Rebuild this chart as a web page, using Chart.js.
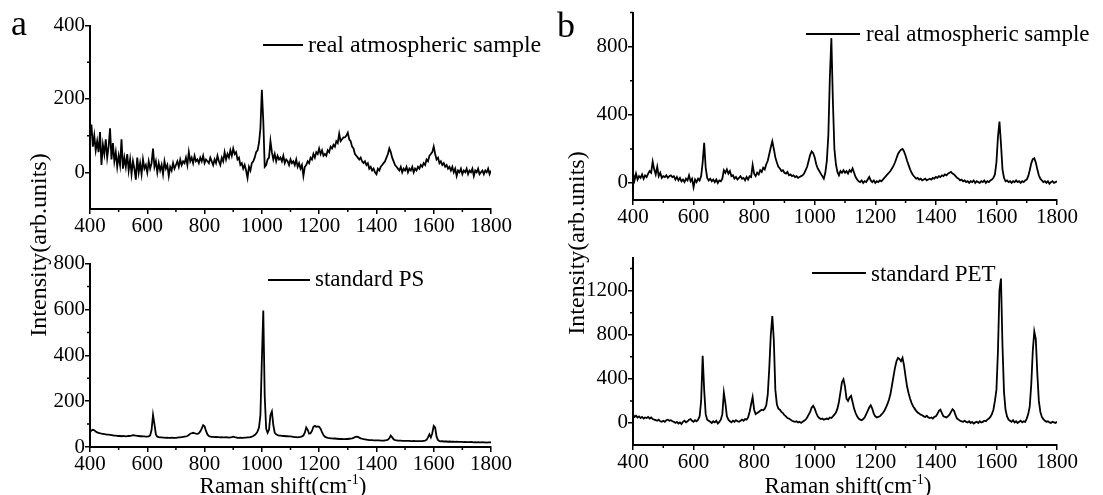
<!DOCTYPE html>
<html>
<head>
<meta charset="utf-8">
<script src="https://cdn.jsdelivr.net/npm/chart.js@4.4.1/dist/chart.umd.min.js"></script>
<style>
  body { margin: 0; background: #fff; width: 1103px; height: 495px; position: relative; overflow: hidden;
         font-family: "Liberation Serif", "Times New Roman", serif; color: #000; }
  canvas { position: absolute; }
  .txt { position: absolute; white-space: nowrap; line-height: 1; }
  .key { position: absolute; height: 2px; background: #000; }
  .ytitle { position: absolute; white-space: nowrap; line-height: 1; font-size: 24px;
            transform: translate(-50%, -50%) rotate(-90deg); }
  .xtitle { position: absolute; white-space: nowrap; line-height: 1; font-size: 23px;
            transform: translate(-50%, -50%); }
  sup { font-size: 14px; vertical-align: 9px; line-height: 0; }
</style>
</head>
<body>
<canvas id="aTop"></canvas>
<canvas id="aBot"></canvas>
<canvas id="bTop"></canvas>
<canvas id="bBot"></canvas>

<div class="txt" style="left:11px;top:5px;font-size:36px;">a</div>
<div class="txt" style="left:557px;top:7px;font-size:36px;">b</div>

<div class="key" style="left:263px;top:44px;width:40px;"></div>
<div class="txt" style="left:308px;top:32px;font-size:24px;">real atmospheric sample</div>
<div class="key" style="left:268px;top:279px;width:42px;"></div>
<div class="txt" style="left:315px;top:267px;font-size:23px;">standard PS</div>
<div class="key" style="left:806px;top:33px;width:54px;"></div>
<div class="txt" style="left:866px;top:22px;font-size:23px;">real atmospheric sample</div>
<div class="key" style="left:812px;top:272px;width:54px;"></div>
<div class="txt" style="left:871px;top:262px;font-size:23px;">standard PET</div>

<div class="ytitle" style="left:38px;top:245px;">Intensity(arb.units)</div>
<div class="ytitle" style="left:576px;top:243px;">Intensity(arb.units)</div>
<div class="xtitle" style="left:283px;top:485px;">Raman shift(cm<sup>-1</sup>)</div>
<div class="xtitle" style="left:848px;top:485px;">Raman shift(cm<sup>-1</sup>)</div>

<script>
// Raman shift axis (cm-1), shared by all four spectra
const ramanShift = [
  400, 405, 410, 415, 420, 425, 430, 435, 440, 445, 450, 455, 460, 465, 470, 475, 480, 485, 490, 495,
  500, 505, 510, 515, 520, 525, 530, 535, 540, 545, 550, 555, 560, 565, 570, 575, 580, 585, 590, 595,
  600, 605, 610, 615, 620, 625, 630, 635, 640, 645, 650, 655, 660, 665, 670, 675, 680, 685, 690, 695,
  700, 705, 710, 715, 720, 725, 730, 735, 740, 745, 750, 755, 760, 765, 770, 775, 780, 785, 790, 795,
  800, 805, 810, 815, 820, 825, 830, 835, 840, 845, 850, 855, 860, 865, 870, 875, 880, 885, 890, 895,
  900, 905, 910, 915, 920, 925, 930, 935, 940, 945, 950, 955, 960, 965, 970, 975, 980, 985, 990, 995,
  1000, 1005, 1010, 1015, 1020, 1025, 1030, 1035, 1040, 1045, 1050, 1055, 1060, 1065, 1070, 1075, 1080, 1085, 1090, 1095,
  1100, 1105, 1110, 1115, 1120, 1125, 1130, 1135, 1140, 1145, 1150, 1155, 1160, 1165, 1170, 1175, 1180, 1185, 1190, 1195,
  1200, 1205, 1210, 1215, 1220, 1225, 1230, 1235, 1240, 1245, 1250, 1255, 1260, 1265, 1270, 1275, 1280, 1285, 1290, 1295,
  1300, 1305, 1310, 1315, 1320, 1325, 1330, 1335, 1340, 1345, 1350, 1355, 1360, 1365, 1370, 1375, 1380, 1385, 1390, 1395,
  1400, 1405, 1410, 1415, 1420, 1425, 1430, 1435, 1440, 1445, 1450, 1455, 1460, 1465, 1470, 1475, 1480, 1485, 1490, 1495,
  1500, 1505, 1510, 1515, 1520, 1525, 1530, 1535, 1540, 1545, 1550, 1555, 1560, 1565, 1570, 1575, 1580, 1585, 1590, 1595,
  1600, 1605, 1610, 1615, 1620, 1625, 1630, 1635, 1640, 1645, 1650, 1655, 1660, 1665, 1670, 1675, 1680, 1685, 1690, 1695,
  1700, 1705, 1710, 1715, 1720, 1725, 1730, 1735, 1740, 1745, 1750, 1755, 1760, 1765, 1770, 1775, 1780, 1785, 1790, 1795,
  1800
];

// (a) real atmospheric sample
const atmosA = [
  95, 130, 70, 100, 60, 85, 55, 110, 20, 75, 50, 90, 40, 70, 120, 35, 80, 30, 55, 15,
  45, 20, 90, 10, 40, 15, 50, 5, 35, -5, 30, 10, -20, 40, 0, 25, -5, 35, 10, 20,
  0, 30, 10, 25, 65, 15, 30, 0, 25, 5, 20, -5, 30, 10, 20, -10, 15, 5, 25, 10,
  20, 30, 15, 35, 20, 30, 25, 40, 20, 55, 30, 40, 25, 45, 30, 35, 25, 40, 30, 45,
  25, 35, 30, 25, 40, 30, 20, 35, 25, 45, 30, 20, 40, 30, 55, 35, 50, 40, 60, 45,
  65, 50, 55, 35, 40, 20, 25, 10, 20, 5, -15, 15, 5, 25, 30, 40, 55, 60, 80, 120,
  225, 140, 15, 20, 35, 40, 85, 55, 35, 50, 30, 45, 35, 40, 30, 45, 25, 35, 30, 20,
  35, 25, 30, 20, 35, 15, 25, 10, 20, -10, 15, 20, 30, 25, 40, 35, 50, 40, 55, 50,
  65, 50, 60, 45, 50, 45, 60, 55, 70, 65, 75, 70, 85, 80, 105, 85, 90, 95, 95, 100,
  108, 90, 85, 70, 65, 50, 45, 40, 35, 40, 30, 25, 30, 20, 25, 10, 15, 5, 10, 0,
  -5, 10, 5, 15, 20, 25, 30, 40, 50, 65, 55, 40, 30, 20, 15, 10, 5, 15, 0, 10,
  5, 15, 0, 10, 5, 15, 0, 10, 5, 15, 10, 20, 15, 25, 20, 35, 30, 45, 50, 55,
  70, 50, 35, 40, 25, 30, 20, 25, 15, 20, 10, 15, 5, 15, 0, 10, -10, 5, 0, 10,
  -5, 5, 0, 10, -5, 5, 0, 10, -10, 5, 0, 10, -5, 0, 5, -5, 5, 0, 10, -5,
  5
];

// (a) standard PS
const standardPS = [
  65, 72, 75, 73, 68, 64, 62, 60, 58, 57, 56, 55, 54, 54, 53, 52, 51, 50, 50, 49,
  48, 48, 47, 48, 47, 46, 47, 48, 49, 50, 52, 51, 50, 49, 48, 47, 47, 46, 46, 45,
  45, 46, 50, 75, 140, 100, 55, 45, 43, 42, 42, 41, 41, 40, 41, 40, 40, 41, 40, 40,
  40, 41, 42, 42, 43, 44, 45, 46, 48, 52, 58, 60, 62, 60, 58, 57, 60, 68, 80, 95,
  90, 70, 55, 48, 45, 44, 44, 43, 44, 43, 43, 42, 43, 42, 42, 43, 42, 41, 42, 43,
  45, 43, 42, 40, 40, 41, 40, 40, 41, 41, 42, 42, 43, 45, 48, 52, 58, 68, 85, 140,
  380, 595, 220, 80, 62, 75, 140, 155, 95, 62, 55, 52, 50, 50, 49, 48, 48, 47, 47, 46,
  46, 45, 44, 43, 43, 42, 43, 44, 46, 50, 62, 85, 75, 58, 60, 70, 88, 92, 88, 90,
  88, 80, 65, 52, 45, 42, 40, 39, 38, 38, 37, 37, 36, 36, 35, 35, 35, 34, 34, 35,
  35, 36, 37, 38, 40, 43, 45, 44, 41, 38, 36, 34, 33, 32, 31, 30, 30, 30, 29, 29,
  29, 29, 29, 28, 28, 28, 29, 30, 32, 38, 50, 42, 34, 30, 29, 28, 28, 28, 27, 27,
  27, 27, 27, 27, 26, 26, 27, 26, 26, 26, 26, 26, 26, 27, 28, 31, 42, 55, 42, 60,
  92, 85, 45, 30, 26, 25, 25, 24, 24, 24, 23, 24, 23, 23, 23, 22, 23, 22, 22, 22,
  22, 21, 22, 21, 21, 21, 22, 21, 20, 21, 20, 21, 20, 20, 21, 20, 20, 19, 20, 20,
  20
];

// (b) real atmospheric sample
const atmosB = [
  60, 15, 55, 20, 40, 30, 50, 25, 45, 35, 55, 70, 60, 125, 80, 50, 95, 40, 60, 30,
  40, 35, 45, 30, 40, 45, 35, 40, 20, 35, 15, 30, 10, 20, 5, 25, 15, 45, 10, 25,
  -25, 20, 5, 25, 15, 40, 120, 235, 90, 30, 15, 25, 10, 20, 5, 20, 0, 15, 10, 25,
  75, 60, 80, 55, 70, 40, 45, 25, 35, 20, 30, 40, 25, 30, 15, 35, 20, 40, 35, 105,
  55, 40, 60, 50, 75, 65, 90, 80, 110, 130, 170, 210, 245, 200, 150, 120, 95, 85, 70, 75,
  60, 55, 65, 45, 50, 40, 45, 35, 40, 30, 35, 40, 45, 55, 75, 95, 130, 165, 185, 175,
  150, 110, 85, 70, 55, 40, 25, 60, 130, 280, 620, 850, 480, 200, 110, 65, 45, 70, 60, 75,
  60, 70, 55, 75, 65, 85, 60, 35, 20, 10, 5, 15, 0, 10, 5, 20, 35, 15, 5, 15,
  0, 10, 5, 15, 10, 20, 30, 40, 50, 60, 70, 85, 100, 120, 145, 170, 185, 195, 200, 185,
  160, 130, 105, 80, 60, 45, 35, 25, 30, 20, 25, 15, 20, 25, 15, 20, 25, 20, 30, 25,
  35, 30, 40, 35, 45, 40, 50, 45, 55, 60, 65, 55, 50, 40, 30, 25, 15, 20, 10, 15,
  5, 10, 0, 10, 5, 15, 0, 10, 5, 0, 10, 5, 15, 0, 10, 5, 15, 20, 30, 50,
  120, 270, 360, 230, 80, 30, 10, 15, 5, 10, 0, 10, 5, 15, 5, 10, 0, 10, 5, 15,
  20, 40, 75, 115, 140, 145, 120, 80, 45, 25, 15, 5, 10, 0, 10, -5, 5, 10, 0, 5,
  10
];

// (b) standard PET
const standardPET = [
  80, 55, 65, 50, 60, 45, 55, 40, 50, 45, 55, 40, 50, 35, 30, 25, 20, 30, 15, 10,
  20, 10, 25, 30, 20, 25, 15, 10, 0, 10, -5, 5, -10, 10, 20, 5, 15, 30, 35, 20,
  10, 25, 15, 30, 60, 200, 610, 300, 80, 30, 20, 10, 0, 15, 5, 20, -5, 10, 30, 80,
  275, 180, 60, 30, 15, 5, 20, 10, 25, 15, 10, 20, 30, 20, 35, 30, 50, 100, 170, 235,
  120, 80, 90, 100, 110, 120, 115, 130, 160, 260, 500, 800, 970, 750, 300, 170, 130, 120, 100, 90,
  70, 60, 45, 40, 30, 20, 15, 10, 15, 5, 10, 0, 10, 20, 30, 50, 75, 100, 140, 155,
  130, 90, 60, 45, 35, 40, 30, 35, 40, 35, 50, 45, 60, 75, 95, 130, 190, 280, 370, 395,
  330, 220, 200, 230, 245, 190, 130, 90, 60, 40, 30, 25, 35, 50, 80, 110, 140, 160, 130, 85,
  60, 50, 55, 60, 75, 90, 110, 140, 170, 210, 260, 340, 420, 500, 560, 590, 580, 560, 590, 520,
  420, 330, 270, 220, 180, 150, 130, 110, 95, 85, 75, 70, 60, 55, 65, 50, 45, 50, 40, 55,
  60, 80, 110, 120, 90, 60, 55, 50, 60, 75, 100, 125, 110, 70, 40, 30, 20, 15, 10, 20,
  10, 5, 15, 0, 10, -5, 5, 10, 0, 15, 5, 10, 20, 15, 30, 40, 55, 80, 120, 200,
  300, 650, 1200, 1310, 700, 280, 120, 60, 30, 20, 10, 25, 5, 15, 0, 10, 20, 5, 15, 10,
  40, 80, 150, 350, 650, 830, 760, 450, 200, 100, 55, 35, 20, 10, 15, 5, 0, 10, 5, 0,
  10
];

// tick values
const xMajor = [400, 600, 800, 1000, 1200, 1400, 1600, 1800];
const xMinor = [500, 700, 900, 1100, 1300, 1500, 1700];
const aTopMajor = [0, 200, 400];
const aTopMinor = [100, 300];
const aBotMajor = [0, 200, 400, 600, 800];
const aBotMinor = [100, 300, 500, 700];
const bTopMajor = [0, 400, 800];
const bTopMinor = [200, 600, 1000];
const bBotMajor = [0, 400, 800, 1200];
const bBotMinor = [200, 600, 1000, 1400];

const FONT = '"Liberation Serif", "Times New Roman", serif';
const PAD = { l: 70, t: 12, r: 30, b: 40 };

// short outward ticks between the labelled ones
const minorTicks = {
  id: 'minorTicks',
  afterDraw(chart, args, opts) {
    const { ctx } = chart;
    const xs = chart.scales.x, ys = chart.scales.y;
    ctx.save();
    ctx.strokeStyle = '#000';
    ctx.lineWidth = 1.5;
    ctx.beginPath();
    opts.x.forEach(v => {
      const px = xs.getPixelForValue(v);
      ctx.moveTo(px, ys.bottom);
      ctx.lineTo(px, ys.bottom + 3);
    });
    opts.y.forEach(v => {
      const py = ys.getPixelForValue(v);
      ctx.moveTo(xs.left, py);
      ctx.lineTo(xs.left - 3, py);
    });
    ctx.stroke();
    ctx.restore();
  }
};

function axisStyle() {
  return {
    border: { display: true, color: '#000', width: 2 },
    grid: { display: true, drawOnChartArea: false, drawTicks: true, tickLength: 5, color: '#000', lineWidth: 1.5 },
    ticks: { color: '#000', font: { family: FONT, size: 21 }, padding: 0, callback: v => String(v) }
  };
}

function drawPanel(id, values, yMin, yMax, yMajor, yMinor, rect) {
  const [left, top, right, bottom] = rect;
  const canvas = document.getElementById(id);
  canvas.width = right - left + PAD.l + PAD.r;
  canvas.height = bottom - top + PAD.t + PAD.b;
  canvas.style.left = (left - PAD.l) + 'px';
  canvas.style.top = (top - PAD.t) + 'px';

  const xAxis = axisStyle();
  const yAxis = axisStyle();

  new Chart(canvas, {
    type: 'line',
    data: {
      datasets: [{
        data: ramanShift.map((x, i) => ({ x: x, y: values[i] })),
        borderColor: '#000',
        borderWidth: 1.8,
        pointRadius: 0,
        tension: 0
      }]
    },
    options: {
      responsive: false,
      animation: false,
      layout: { padding: { top: PAD.t, right: PAD.r, left: 0, bottom: 0 } },
      plugins: {
        legend: { display: false },
        tooltip: { enabled: false },
        minorTicks: { x: xMinor, y: yMinor }
      },
      scales: {
        x: Object.assign(xAxis, {
          type: 'linear', min: 400, max: 1800,
          afterBuildTicks: s => { s.ticks = xMajor.map(v => ({ value: v })); },
          afterFit: s => { s.height = PAD.b; }
        }),
        y: Object.assign(yAxis, {
          type: 'linear', min: yMin, max: yMax,
          afterBuildTicks: s => { s.ticks = yMajor.map(v => ({ value: v })); },
          afterFit: s => { s.width = PAD.l; }
        })
      }
    },
    plugins: [minorTicks]
  });
}

drawPanel('aTop', atmosA, -100, 400, aTopMajor, aTopMinor, [90, 25, 491, 209]);
drawPanel('aBot', standardPS, 0, 800, aBotMajor, aBotMinor, [90, 263, 491, 447]);
drawPanel('bTop', atmosB, -100, 1000, bTopMajor, bTopMinor, [633, 12, 1057, 200]);
drawPanel('bBot', standardPET, -200, 1500, bBotMajor, bBotMinor, [633, 257, 1057, 445]);
</script>
</body>
</html>
